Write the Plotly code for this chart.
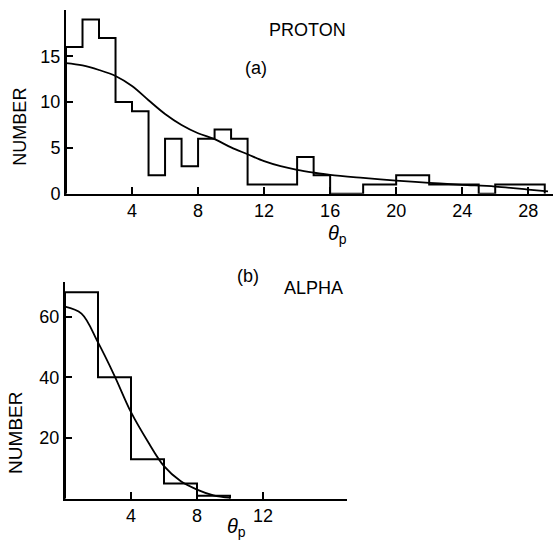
import plotly.graph_objects as go

W, H = 554, 544

# ---- data: proton (panel a) ----
proton_edges = list(range(0, 30))
proton_counts = [16, 19, 17, 10, 9, 2, 6, 3, 6, 7, 6, 1, 1, 1, 4, 2, 0, 0,
                 1, 1, 2, 2, 1, 1, 1, 0, 1, 1, 1]
proton_fit_x = [0, 1, 2, 3, 4, 5, 6, 7, 8, 9, 10, 11, 12, 13, 14, 15, 16,
                18, 20, 22, 24, 26, 28, 29.2]
proton_fit_y = [14.25, 14.0, 13.5, 12.85, 11.75, 10.2, 8.7, 7.5, 6.6, 5.95,
                5.05, 4.3, 3.55, 3.0, 2.6, 2.3, 2.05, 1.72, 1.43, 1.18, 0.97,
                0.78, 0.45, 0.25]
proton_xticks = [4, 8, 12, 16, 20, 24, 28]
proton_yticks = [0, 5, 10, 15]

# ---- data: alpha (panel b) ----
alpha_edges = [0, 2, 4, 6, 8, 10]
alpha_counts = [68, 40, 13, 5, 1]
alpha_fit_x = [0, 1, 2, 3, 4, 5, 6, 7, 8, 9, 10]
alpha_fit_y = [63.3, 61.0, 51.5, 40.5, 28.5, 19.0, 10.7, 5.8, 3.0, 1.1, 0.3]
alpha_xticks = [4, 8, 12]
alpha_yticks = [20, 40, 60]

FONT = "Liberation Sans, Arial, sans-serif"


def step_xy(edges, counts):
    xs = [edges[0]] + list(edges) + [edges[-1]]
    ys = [0] + list(counts) + [counts[-1], 0]
    return xs, ys


fig = go.Figure()

px, py = step_xy(proton_edges, proton_counts)
fig.add_trace(go.Scatter(x=px, y=py, mode="lines", line=dict(color="black", width=2, shape="hv"),
                         xaxis="x", yaxis="y", cliponaxis=False, showlegend=False))
fig.add_trace(go.Scatter(x=proton_fit_x, y=proton_fit_y, mode="lines",
                         line=dict(color="black", width=1.8, shape="spline", smoothing=1.0),
                         xaxis="x", yaxis="y", showlegend=False))

ax, ay = step_xy(alpha_edges, alpha_counts)
fig.add_trace(go.Scatter(x=ax, y=ay, mode="lines", line=dict(color="black", width=2, shape="hv"),
                         xaxis="x2", yaxis="y2", cliponaxis=False, showlegend=False))
fig.add_trace(go.Scatter(x=alpha_fit_x, y=alpha_fit_y, mode="lines",
                         line=dict(color="black", width=1.8, shape="spline", smoothing=1.0),
                         xaxis="x2", yaxis="y2", showlegend=False))

axis_common = dict(showline=True, linecolor="black", linewidth=2, ticks="inside",
                   ticklen=7, tickwidth=1.6, tickcolor="black", showgrid=False,
                   zeroline=False, tickfont=dict(family=FONT, size=18, color="black"),
                   fixedrange=True)

fig.update_layout(
    width=W, height=H, margin=dict(l=0, r=0, t=0, b=0),
    paper_bgcolor="white", plot_bgcolor="white",
    xaxis=dict(domain=[66 / W, 553 / W], range=[0, 29.5], tickvals=proton_xticks,
               anchor="y", **axis_common),
    yaxis=dict(domain=[1 - 197.3 / H, 1 - 10 / H], range=[0, 20.07], tickvals=proton_yticks,
               anchor="x", **axis_common),
    xaxis2=dict(domain=[65 / W, 346.7 / W], range=[0, 17.07], tickvals=alpha_xticks,
                anchor="y2", **axis_common),
    yaxis2=dict(domain=[1 - 508 / H, 1 - 287.3 / H], range=[0, 71.4], tickvals=alpha_yticks,
                anchor="x2", **axis_common),
)


def ann(text, x, y, size=18, angle=0, xanchor="center"):
    fig.add_annotation(text=text, x=x / W, y=1 - y / H, xref="paper", yref="paper",
                       xanchor=xanchor, yanchor="middle", showarrow=False, textangle=angle,
                       font=dict(family=FONT, size=size, color="black"))


ann("PROTON", 267, 31, xanchor="left")
ann("(a)", 256, 69)
ann("(b)", 248, 281)
ann("ALPHA", 282, 293, xanchor="left")
ann("NUMBER", 20, 129, size=18, angle=-90)
ann("NUMBER", 16, 441, size=19, angle=-90)
ann("<i>θ</i><sub>p</sub>", 337, 239, size=20)
ann("<i>θ</i><sub>p</sub>", 236, 537, size=20)

fig.write_html("out.html")
